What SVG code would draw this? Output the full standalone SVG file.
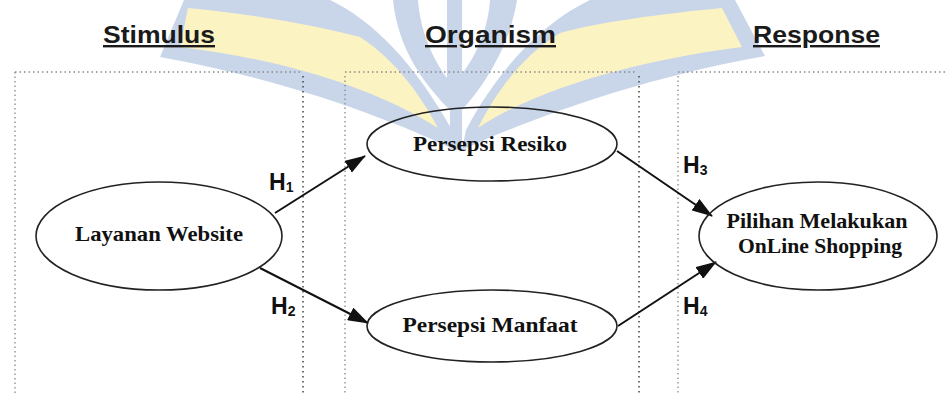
<svg xmlns="http://www.w3.org/2000/svg" width="947" height="393" viewBox="0 0 947 393">
  <style>
    .wm-blue { fill: #c9d6ea; }
    .wm-yellow { fill: #fcf3c2; }
    .wm-white { fill: #ffffff; }
    .head { font-family: "Liberation Sans", Arial, sans-serif; font-weight: bold; font-size: 24px; fill: #1a1a1a; text-decoration: underline; }
    .lbl { font-family: "Liberation Serif", "Times New Roman", serif; font-weight: bold; font-size: 21px; fill: #111; text-anchor: middle; }
    .hyp { font-family: "Liberation Sans", Arial, sans-serif; font-weight: bold; font-size: 23px; fill: #111; }
    .node { fill: none; stroke: #222; stroke-width: 1.6; }
    .dot { fill: none; stroke: #8a8a8a; stroke-width: 1.3; stroke-dasharray: 1.5 3; }
    .dot-dark { fill: none; stroke: #444; stroke-width: 1.5; stroke-dasharray: 1.5 3.5; }
    .edge { fill: none; stroke: #111; stroke-width: 2; }
  </style>
  <defs>
    <marker id="arrow" markerUnits="userSpaceOnUse" markerWidth="22" markerHeight="14" refX="20" refY="7" orient="auto">
      <path d="M0,0 L21,7 L0,14 Z" fill="#111"/>
    </marker>
  </defs>

  <rect width="947" height="393" fill="#ffffff"/>

  <!-- background emblem: open book with central stem -->
  <g id="emblem">
    <path class="wm-blue" d="M160 57 L184 0 L330 0 C372 20 414 62 452 130 L455 150 C410 128 300 82 160 57 Z"/>
    <path class="wm-yellow" d="M180 47 L188 8 C250 14 310 24 360 37 C398 62 422 98 438 128 C400 104 320 64 180 47 Z"/>
    <path class="wm-blue" d="M765 56 L735 0 L590 0 C548 20 502 62 466 130 L462 150 C510 128 620 82 765 56 Z"/>
    <path class="wm-yellow" d="M742 47 L722 8 C660 14 600 22 560 33 C520 57 494 96 478 128 C512 104 600 65 742 47 Z"/>
    <path class="wm-blue" d="M393 0 C398 50 425 85 450 110 L450 150 L462 150 L462 110 C485 85 510 45 517 0 Z"/>
    <path class="wm-white" d="M418 0 L447 0 L447 78 C432 58 420 30 418 0 Z"/>
    <path class="wm-white" d="M462 0 L490 0 C488 30 476 55 462 74 Z"/>
  </g>

  <!-- column headings -->
  <g id="headings">
    <text class="head" x="103" y="43" textLength="112" lengthAdjust="spacingAndGlyphs">Stimulus</text>
    <text class="head" x="425" y="43" textLength="131" lengthAdjust="spacingAndGlyphs">Organism</text>
    <text class="head" x="753" y="43" textLength="127" lengthAdjust="spacingAndGlyphs">Response</text>
  </g>

  <!-- dotted column frames -->
  <g id="frames">
    <path class="dot" d="M15 72 H300 M15 72 V393"/>
    <path class="dot-dark" d="M303 76 V393"/>
    <path class="dot" d="M345 72 H636 M345 76 V393"/>
    <path class="dot-dark" d="M639 76 V393"/>
    <path class="dot" d="M678 72 H947 M678 76 V393"/>
  </g>

  <!-- connectors -->
  <g id="connectors">
    <line class="edge" x1="275" y1="213" x2="365" y2="156" marker-end="url(#arrow)"/>
    <line class="edge" x1="260" y1="268" x2="368" y2="323" marker-end="url(#arrow)"/>
    <line class="edge" x1="617" y1="151" x2="712" y2="216" marker-end="url(#arrow)"/>
    <line class="edge" x1="618" y1="326" x2="716" y2="262" marker-end="url(#arrow)"/>
    <text class="hyp" x="269" y="190">H<tspan font-size="14" dy="2">1</tspan></text>
    <text class="hyp" x="271" y="314">H<tspan font-size="14" dy="2">2</tspan></text>
    <text class="hyp" x="683" y="173">H<tspan font-size="14" dy="2">3</tspan></text>
    <text class="hyp" x="683" y="314">H<tspan font-size="14" dy="2">4</tspan></text>
  </g>

  <g id="layanan-website">
    <ellipse class="node" cx="159" cy="236" rx="123" ry="54"/>
    <text class="lbl" x="159" y="241" textLength="168" lengthAdjust="spacingAndGlyphs">Layanan Website</text>
  </g>

  <g id="persepsi-resiko">
    <ellipse class="node" cx="492" cy="144" rx="125" ry="37"/>
    <text class="lbl" x="490" y="151" textLength="154" lengthAdjust="spacingAndGlyphs">Persepsi Resiko</text>
  </g>

  <g id="persepsi-manfaat">
    <ellipse class="node" cx="492" cy="326" rx="125" ry="36"/>
    <text class="lbl" x="490" y="332" textLength="175" lengthAdjust="spacingAndGlyphs">Persepsi Manfaat</text>
  </g>

  <g id="pilihan-online-shopping">
    <ellipse class="node" cx="818" cy="236" rx="119" ry="54"/>
    <text class="lbl" x="817" y="228" textLength="181" lengthAdjust="spacingAndGlyphs">Pilihan Melakukan</text>
    <text class="lbl" x="820" y="253" textLength="164" lengthAdjust="spacingAndGlyphs">OnLine Shopping</text>
  </g>
</svg>
